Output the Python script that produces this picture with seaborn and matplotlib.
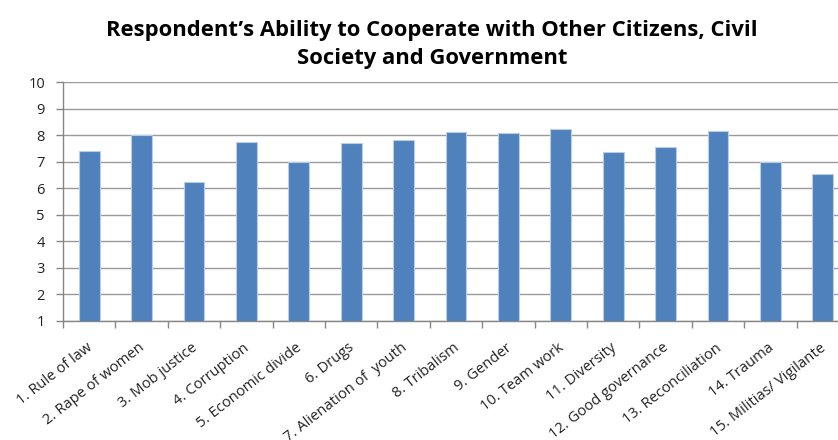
import matplotlib
matplotlib.use("Agg")
import matplotlib.pyplot as plt
import seaborn as sns
import pandas as pd
from matplotlib.ticker import FixedLocator
from matplotlib.transforms import ScaledTranslation

categories = [
    "1. Rule of law", "2. Rape of women", "3. Mob justice", "4. Corruption",
    "5. Economic divide", "6. Drugs", "7. Alienation of  youth", "8. Tribalism",
    "9. Gender", "10. Team work", "11. Diversity", "12. Good governance",
    "13. Reconciliation", "14. Trauma", "15. Militias/ Vigilante",
]
scores = [7.40, 8.00, 6.25, 7.73, 6.97, 7.72, 7.80, 8.13,
          8.08, 8.22, 7.38, 7.55, 8.14, 6.98, 6.54]
y_ticks = list(range(1, 11))

df = pd.DataFrame({"category": categories, "score": scores})

sns.set_theme(style="white")
plt.rcParams["font.family"] = ["Open Sans", "DejaVu Sans"]

fig = plt.figure(figsize=(8.38, 4.40), dpi=100)
ax = fig.add_axes([63 / 838, 1 - 321 / 440, 786 / 838, 239 / 440])

sns.barplot(data=df, x="category", y="score", ax=ax, color="#4F81BD",
            saturation=1, width=0.395, edgecolor="#B9CDE5", linewidth=0.8,
            zorder=3)

ax.set_ylim(1, 10)
ax.set_xlim(-0.5, len(categories) - 0.5)
ax.set_yticks(y_ticks)
ax.set_yticklabels([str(t) for t in y_ticks], fontsize=10.5, color="#222222")
ax.yaxis.grid(True, color="#9A9A9A", linewidth=1.0, zorder=0)
ax.set_axisbelow(True)

# category separators as minor ticks on the baseline
ax.xaxis.set_minor_locator(FixedLocator([i - 0.5 for i in range(len(categories) + 1)]))
ax.tick_params(axis="x", which="minor", length=5, width=1, color="#868686",
               bottom=True)
ax.tick_params(axis="x", which="major", length=0, pad=14)
ax.tick_params(axis="y", which="major", length=5, width=1, color="#868686",
               left=True, pad=8)

ax.set_xticks(range(len(categories)))
ax.set_xticklabels(categories, rotation=38, ha="right", rotation_mode="anchor",
                   fontsize=10.6, color="#222222")
shift = ScaledTranslation(-3 / 100, 0, fig.dpi_scale_trans)
for lbl in ax.get_xticklabels():
    lbl.set_transform(lbl.get_transform() + shift)
ax.set_xlabel("")
ax.set_ylabel("")

for side in ["top", "right"]:
    ax.spines[side].set_visible(False)
for side in ["left", "bottom"]:
    ax.spines[side].set_color("#868686")
    ax.spines[side].set_linewidth(1)

fig.text(432 / 838, 1 - 20 / 440,
         "Respondent\u2019s Ability to Cooperate with Other Citizens, Civil\nSociety and Government",
         ha="center", va="top", fontsize=15.8, fontweight="bold",
         family=["Open Sans", "DejaVu Sans"], linespacing=1.45, color="#000000")

fig.savefig("out.png", dpi=100, facecolor="white")
